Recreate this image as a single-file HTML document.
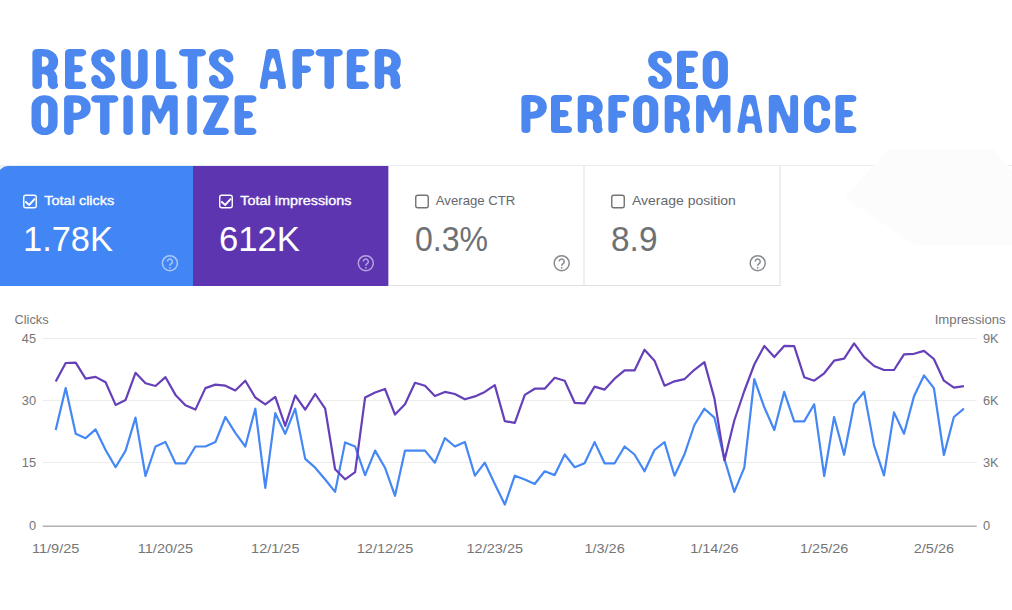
<!DOCTYPE html>
<html><head><meta charset="utf-8"><style>
html,body{margin:0;padding:0;background:#fff;width:1012px;height:610px;overflow:hidden;}
svg{display:block;}
</style></head><body>
<svg width="1012" height="610" viewBox="0 0 1012 610">
<defs><filter id="rnd" x="-20%" y="-20%" width="140%" height="140%"><feGaussianBlur stdDeviation="1.5"/><feComponentTransfer><feFuncA type="linear" slope="4" intercept="-1.5"/></feComponentTransfer></filter></defs>
<rect width="1012" height="610" fill="#fff"/>
<g fill="none" stroke="#4b87ee" stroke-linecap="round" stroke-linejoin="round"><path transform="translate(32.40,49.00) scale(1.28,1)" d="M3.70 36.30V3.70H7.88C12.98 3.70 16.38 7.10 16.38 12.20V12.90C16.38 18.00 12.98 21.40 7.88 21.40H3.70M6.18 21.40C12.98 21.40 15.75 24.40 15.75 29.40V34.80L16.38 36.30" stroke-width="7.40"/><path transform="translate(65.00,49.00) scale(1.28,1)" d="M12.94 3.70H3.70V36.30H12.94M3.70 19.60H10.21" stroke-width="7.40"/><path transform="translate(91.20,49.00) scale(1.28,1)" d="M14.89 9.70C14.89 5.50 11.89 3.70 9.30 3.70C6.70 3.70 3.70 5.50 3.70 11.00C3.70 19.00 14.89 20.00 14.89 29.00C14.89 34.50 11.89 36.30 9.30 36.30C6.70 36.30 3.70 34.50 3.70 29.80" stroke-width="7.40"/><path transform="translate(121.20,49.00) scale(1.28,1)" d="M3.70 3.70V28.30C3.70 38.97 16.93 38.97 16.93 28.30V3.70" stroke-width="7.40"/><path transform="translate(156.00,49.00) scale(1.28,1)" d="M3.70 3.70V36.30H12.55" stroke-width="7.40"/><path transform="translate(179.00,49.00) scale(1.28,1)" d="M3.70 3.70H17.39M10.55 3.70V36.30" stroke-width="7.40"/><path transform="translate(208.90,49.00) scale(1.28,1)" d="M15.44 9.70C15.44 5.50 12.44 3.70 9.57 3.70C6.70 3.70 3.70 5.50 3.70 11.00C3.70 19.00 15.44 20.00 15.44 29.00C15.44 34.50 12.44 36.30 9.57 36.30C6.70 36.30 3.70 34.50 3.70 29.80" stroke-width="7.40"/><path d="M259.30 89.00L266.54 49.00L278.75 49.00L286.50 89.00L278.23 89.00L277.80 79.12L268.00 79.12L267.57 89.00ZM272.90 54.20L277.66 71.60L268.28 71.60Z" fill="#4b87ee" fill-rule="evenodd" stroke="none" filter="url(#rnd)"/><path transform="translate(292.50,49.00) scale(1.28,1)" d="M13.41 3.70H3.70V36.30M3.70 20.20H10.75" stroke-width="7.40"/><path transform="translate(315.60,49.00) scale(1.28,1)" d="M3.70 3.70H17.55M10.62 3.70V36.30" stroke-width="7.40"/><path transform="translate(346.80,49.00) scale(1.28,1)" d="M13.64 3.70H3.70V36.30H13.64M3.70 19.60H10.91" stroke-width="7.40"/><path transform="translate(374.70,49.00) scale(1.28,1)" d="M3.70 36.30V3.70H8.19C13.29 3.70 16.69 7.10 16.69 12.20V12.90C16.69 18.00 13.29 21.40 8.19 21.40H3.70M6.49 21.40C13.29 21.40 16.07 24.40 16.07 29.40V34.80L16.69 36.30" stroke-width="7.40"/><path transform="translate(31.50,95.30) scale(1.28,1)" d="M3.67 12.11C3.67 0.86 16.72 0.86 16.72 12.11V27.59C16.72 38.84 3.67 38.84 3.67 27.59Z" stroke-width="7.34"/><path transform="translate(64.10,95.30) scale(1.28,1)" d="M3.67 36.03V3.67H8.67C13.73 3.67 17.11 7.05 17.11 12.11V12.60C17.11 17.67 13.73 21.04 8.67 21.04H3.67" stroke-width="7.34"/><path transform="translate(91.20,95.30) scale(1.28,1)" d="M3.67 3.67H17.58M10.62 3.67V36.03" stroke-width="7.34"/><path transform="translate(123.40,95.30) scale(1.28,1)" d="M3.67 3.67V36.03" stroke-width="7.34"/><path d="M142.20 135.00L142.20 95.30L154.23 95.30L159.84 111.97L165.45 95.30L177.70 95.30L177.70 135.00L169.75 135.00L169.75 106.77L159.84 126.11L150.15 106.77L150.15 135.00Z" fill="#4b87ee" fill-rule="evenodd" stroke="none" filter="url(#rnd)"/><path transform="translate(187.10,95.30) scale(1.28,1)" d="M3.87 3.67V36.03" stroke-width="7.34"/><path transform="translate(202.90,95.30) scale(1.28,1)" d="M3.67 3.67H16.64L3.67 36.03H16.64" stroke-width="7.34"/><path transform="translate(234.60,95.30) scale(1.28,1)" d="M13.44 3.67H3.67V36.03H13.44M3.67 19.45H10.70" stroke-width="7.34"/><path transform="translate(648.10,50.70) scale(1.28,1)" d="M14.97 9.29C14.97 5.27 12.10 3.54 9.26 3.54C6.42 3.54 3.54 5.27 3.54 10.53C3.54 18.19 14.97 19.15 14.97 27.77C14.97 33.03 12.10 34.76 9.26 34.76C6.42 34.76 3.54 33.03 3.54 28.53" stroke-width="7.09"/><path transform="translate(677.00,50.70) scale(1.28,1)" d="M12.94 3.54H3.54V34.76H12.94M3.54 18.77H10.21" stroke-width="7.09"/><path transform="translate(702.70,50.70) scale(1.28,1)" d="M3.54 11.68C3.54 0.83 16.14 0.83 16.14 11.68V26.62C16.14 37.47 3.54 37.47 3.54 26.62Z" stroke-width="7.09"/><path transform="translate(521.40,95.00) scale(1.28,1)" d="M3.52 34.48V3.52H8.25C13.10 3.52 16.33 6.75 16.33 11.59V12.06C16.33 16.91 13.10 20.14 8.25 20.14H3.52" stroke-width="7.03"/><path transform="translate(551.00,95.00) scale(1.28,1)" d="M12.89 3.52H3.52V34.48H12.89M3.52 18.62H10.16" stroke-width="7.03"/><path transform="translate(577.70,95.00) scale(1.28,1)" d="M3.52 34.48V3.52H7.94C12.79 3.52 16.02 6.75 16.02 11.59V12.25C16.02 17.10 12.79 20.33 7.94 20.33H3.52M6.33 20.33C12.79 20.33 15.39 23.18 15.39 27.93V33.06L16.02 34.48" stroke-width="7.03"/><path transform="translate(608.40,95.00) scale(1.28,1)" d="M12.89 3.52H3.52V34.48M3.52 19.19H10.23" stroke-width="7.03"/><path transform="translate(633.10,95.00) scale(1.28,1)" d="M3.52 11.59C3.52 0.82 16.17 0.82 16.17 11.59V26.41C16.17 37.18 3.52 37.18 3.52 26.41Z" stroke-width="7.03"/><path transform="translate(664.70,95.00) scale(1.28,1)" d="M3.52 34.48V3.52H8.10C12.94 3.52 16.17 6.75 16.17 11.59V12.25C16.17 17.10 12.94 20.33 8.10 20.33H3.52M6.48 20.33C12.94 20.33 15.55 23.18 15.55 27.93V33.06L16.17 34.48" stroke-width="7.03"/><path d="M696.10 133.00L696.10 95.00L707.76 95.00L713.20 110.96L718.63 95.00L730.50 95.00L730.50 133.00L722.79 133.00L722.79 105.98L713.20 124.49L703.81 105.98L703.81 133.00Z" fill="#4b87ee" fill-rule="evenodd" stroke="none" filter="url(#rnd)"/><path d="M736.90 133.00L743.82 95.00L755.49 95.00L762.90 133.00L755.00 133.00L754.58 123.61L745.22 123.61L744.80 133.00ZM749.90 99.94L754.45 116.47L745.48 116.47Z" fill="#4b87ee" fill-rule="evenodd" stroke="none" filter="url(#rnd)"/><path d="M768.80 133.00L768.80 95.00L779.85 95.00L790.22 121.60L790.22 95.00L798.10 95.00L798.10 133.00L786.97 133.00L776.68 106.40L776.68 133.00Z" fill="#4b87ee" fill-rule="evenodd" stroke="none" filter="url(#rnd)"/><path transform="translate(804.00,95.00) scale(1.28,1)" d="M16.95 12.54V11.59C16.95 0.82 3.52 0.82 3.52 11.59V26.41C3.52 37.18 16.95 37.18 16.95 26.41V26.79" stroke-width="7.03"/><path transform="translate(835.40,95.00) scale(1.28,1)" d="M12.89 3.52H3.52V34.48H12.89M3.52 18.62H10.16" stroke-width="7.03"/></g>
<rect x="0" y="165" width="1012" height="1" fill="#e8ecf3"/>
<path d="M890 152H992L1012 176V242H916L849 197Z" fill="#fcfcfc" stroke="#fcfcfc" stroke-width="6" stroke-linejoin="round"/>
<rect x="0" y="165" width="10" height="10" fill="#eef0f4"/><path d="M-2 176A10 10 0 0 1 8 166H193V286H-2Z" fill="#4285f4"/>
<rect x="193" y="166" width="195.6" height="120" fill="#5e35b1"/>
<rect x="388.6" y="166" width="195.4" height="120" fill="#fff"/>
<rect x="584" y="166" width="196" height="120" fill="#fff"/>
<rect x="583.5" y="166" width="1" height="120" fill="#e0e0e0"/>
<rect x="779.5" y="166" width="1" height="119" fill="#e0e0e0"/>
<rect x="388.6" y="285" width="392" height="1" fill="#e0e0e0"/>
<rect x="23.75" y="195.25" width="12.5" height="12.5" rx="2" fill="none" stroke="#fff" stroke-width="1.4"/><path d="M25.3 201.6L29.2 204.9L35 198.6" fill="none" stroke="#fff" stroke-width="1.9"/>
<rect x="219.75" y="195.25" width="12.5" height="12.5" rx="2" fill="none" stroke="#fff" stroke-width="1.4"/><path d="M221.3 201.6L225.2 204.9L231 198.6" fill="none" stroke="#fff" stroke-width="1.9"/>
<rect x="415.75" y="195.25" width="12.5" height="12.5" rx="2" fill="none" stroke="#707376" stroke-width="1.4"/>
<rect x="611.75" y="195.25" width="12.5" height="12.5" rx="2" fill="none" stroke="#707376" stroke-width="1.4"/>
<text x="44.3" y="205.3" font-family="Liberation Sans, sans-serif" font-size="13.6" fill="#fff" stroke="#fff" stroke-width="0.35" textLength="70" lengthAdjust="spacingAndGlyphs">Total clicks</text>
<text x="240.3" y="205.3" font-family="Liberation Sans, sans-serif" font-size="13.6" fill="#fff" stroke="#fff" stroke-width="0.35" textLength="111.2" lengthAdjust="spacingAndGlyphs">Total impressions</text>
<text x="435.8" y="205.3" font-family="Liberation Sans, sans-serif" font-size="13.6" fill="#65686c" textLength="79.6" lengthAdjust="spacingAndGlyphs">Average CTR</text>
<text x="632" y="205.3" font-family="Liberation Sans, sans-serif" font-size="13.6" fill="#65686c" textLength="103.8" lengthAdjust="spacingAndGlyphs">Average position</text>
<text x="23" y="251.2" font-family="Liberation Sans, sans-serif" font-size="35.2" fill="#fff" textLength="90" lengthAdjust="spacingAndGlyphs">1.78K</text>
<text x="219" y="251.2" font-family="Liberation Sans, sans-serif" font-size="35.2" fill="#fff" textLength="81" lengthAdjust="spacingAndGlyphs">612K</text>
<text x="415" y="251.2" font-family="Liberation Sans, sans-serif" font-size="35.2" fill="#6e7073" textLength="73" lengthAdjust="spacingAndGlyphs">0.3%</text>
<text x="611" y="251.2" font-family="Liberation Sans, sans-serif" font-size="35.2" fill="#6e7073" textLength="46.5" lengthAdjust="spacingAndGlyphs">8.9</text>
<g opacity="0.55"><circle cx="169.9" cy="263.2" r="7.5" fill="none" stroke="#fff" stroke-width="1.5"/><path d="M167.4 261.6a2.5 2.5 0 1 1 3.8 2.1c-0.9 0.6-1.3 1-1.3 2.1" fill="none" stroke="#fff" stroke-width="1.5"/><circle cx="169.9" cy="267.8" r="0.9" fill="#fff"/></g>
<g opacity="0.55"><circle cx="365.8" cy="263.2" r="7.5" fill="none" stroke="#fff" stroke-width="1.5"/><path d="M363.3 261.6a2.5 2.5 0 1 1 3.8 2.1c-0.9 0.6-1.3 1-1.3 2.1" fill="none" stroke="#fff" stroke-width="1.5"/><circle cx="365.8" cy="267.8" r="0.9" fill="#fff"/></g>
<g opacity="0.75"><circle cx="561.7" cy="263.2" r="7.5" fill="none" stroke="#5f6368" stroke-width="1.5"/><path d="M559.2 261.6a2.5 2.5 0 1 1 3.8 2.1c-0.9 0.6-1.3 1-1.3 2.1" fill="none" stroke="#5f6368" stroke-width="1.5"/><circle cx="561.7" cy="267.8" r="0.9" fill="#5f6368"/></g>
<g opacity="0.75"><circle cx="757.7" cy="263.2" r="7.5" fill="none" stroke="#5f6368" stroke-width="1.5"/><path d="M755.2 261.6a2.5 2.5 0 1 1 3.8 2.1c-0.9 0.6-1.3 1-1.3 2.1" fill="none" stroke="#5f6368" stroke-width="1.5"/><circle cx="757.7" cy="267.8" r="0.9" fill="#5f6368"/></g>
<rect x="42.7" y="338" width="934" height="1" fill="#ececec"/>
<rect x="42.7" y="400" width="934" height="1" fill="#ececec"/>
<rect x="42.7" y="462" width="934" height="1" fill="#ececec"/>
<rect x="42.7" y="525.6" width="934" height="1.2" fill="#9e9e9e"/>
<text x="14.5" y="323.7" font-family="Liberation Sans, sans-serif" font-size="12.8" fill="#757575">Clicks</text>
<text x="1005.7" y="323.7" font-family="Liberation Sans, sans-serif" font-size="12.8" fill="#757575" text-anchor="end" textLength="71" lengthAdjust="spacingAndGlyphs">Impressions</text>
<text x="36" y="342.9" font-family="Liberation Sans, sans-serif" font-size="12.8" fill="#757575" text-anchor="end">45</text>
<text x="36" y="404.7" font-family="Liberation Sans, sans-serif" font-size="12.8" fill="#757575" text-anchor="end">30</text>
<text x="36" y="467" font-family="Liberation Sans, sans-serif" font-size="12.8" fill="#757575" text-anchor="end">15</text>
<text x="36" y="530.2" font-family="Liberation Sans, sans-serif" font-size="12.8" fill="#757575" text-anchor="end">0</text>
<text x="983" y="342.9" font-family="Liberation Sans, sans-serif" font-size="12.8" fill="#757575">9K</text>
<text x="983" y="404.7" font-family="Liberation Sans, sans-serif" font-size="12.8" fill="#757575">6K</text>
<text x="983" y="467" font-family="Liberation Sans, sans-serif" font-size="12.8" fill="#757575">3K</text>
<text x="983" y="530.2" font-family="Liberation Sans, sans-serif" font-size="12.8" fill="#757575">0</text>
<text x="55.7" y="553" font-family="Liberation Sans, sans-serif" font-size="13.2" fill="#757575" text-anchor="middle" textLength="47.4" lengthAdjust="spacingAndGlyphs">11/9/25</text>
<text x="165.5" y="553" font-family="Liberation Sans, sans-serif" font-size="13.2" fill="#757575" text-anchor="middle" textLength="55.4" lengthAdjust="spacingAndGlyphs">11/20/25</text>
<text x="275.3" y="553" font-family="Liberation Sans, sans-serif" font-size="13.2" fill="#757575" text-anchor="middle" textLength="48.4" lengthAdjust="spacingAndGlyphs">12/1/25</text>
<text x="385.0" y="553" font-family="Liberation Sans, sans-serif" font-size="13.2" fill="#757575" text-anchor="middle" textLength="56.5" lengthAdjust="spacingAndGlyphs">12/12/25</text>
<text x="494.8" y="553" font-family="Liberation Sans, sans-serif" font-size="13.2" fill="#757575" text-anchor="middle" textLength="56.5" lengthAdjust="spacingAndGlyphs">12/23/25</text>
<text x="604.6" y="553" font-family="Liberation Sans, sans-serif" font-size="13.2" fill="#757575" text-anchor="middle" textLength="40.4" lengthAdjust="spacingAndGlyphs">1/3/26</text>
<text x="714.4" y="553" font-family="Liberation Sans, sans-serif" font-size="13.2" fill="#757575" text-anchor="middle" textLength="48.4" lengthAdjust="spacingAndGlyphs">1/14/26</text>
<text x="824.2" y="553" font-family="Liberation Sans, sans-serif" font-size="13.2" fill="#757575" text-anchor="middle" textLength="48.4" lengthAdjust="spacingAndGlyphs">1/25/26</text>
<text x="933.9" y="553" font-family="Liberation Sans, sans-serif" font-size="13.2" fill="#757575" text-anchor="middle" textLength="40.4" lengthAdjust="spacingAndGlyphs">2/5/26</text>
<polyline points="55.7,430.0 65.7,388.1 75.7,433.8 85.6,438.2 95.6,429.4 105.6,450.0 115.6,467.2 125.6,450.6 135.5,417.6 145.5,476.0 155.5,446.5 165.5,442.1 175.5,463.3 185.4,463.3 195.4,446.5 205.4,446.5 215.4,442.1 225.4,417.0 235.3,432.9 245.3,446.5 255.3,408.7 265.3,487.8 275.3,413.2 285.2,433.8 295.2,408.7 305.2,458.9 315.2,467.7 325.2,479.5 335.1,491.9 345.1,442.4 355.1,446.5 365.1,475.1 375.1,450.6 385.0,467.7 395.0,495.8 405.0,450.6 415.0,450.6 425.0,450.6 434.9,462.7 444.9,438.2 454.9,446.5 464.9,442.1 474.9,475.7 484.8,462.7 494.8,484.0 504.8,504.6 514.8,475.7 524.8,479.5 534.7,484.0 544.7,471.3 554.7,475.1 564.7,454.5 574.7,467.2 584.6,463.3 594.6,442.1 604.6,463.3 614.6,463.3 624.6,446.5 634.5,454.5 644.5,471.3 654.5,450.0 664.5,442.1 674.5,475.7 684.4,454.5 694.4,425.0 704.4,408.7 714.4,417.6 724.4,458.9 734.3,491.9 744.3,467.7 754.3,379.2 764.3,407.3 774.3,430.0 784.2,391.9 794.2,421.4 804.2,421.4 814.2,404.3 824.2,476.0 834.1,417.0 844.1,454.8 854.1,404.3 864.1,391.9 874.1,445.6 884.0,475.4 894.0,412.4 904.0,433.7 914.0,396.2 924.0,375.4 933.9,388.2 943.9,455.0 953.9,417.0 963.9,408.6" fill="none" stroke="#4487f5" stroke-width="2.2" stroke-linejoin="round"/>
<polyline points="55.7,381.6 65.7,363.0 75.7,362.7 85.6,378.7 95.6,376.9 105.6,382.2 115.6,404.9 125.6,399.9 135.5,372.8 145.5,383.2 155.5,386.0 165.5,377.2 175.5,394.9 185.4,405.2 195.4,409.6 205.4,388.1 215.4,384.6 225.4,385.7 235.3,390.5 245.3,380.7 255.3,397.5 265.3,404.3 275.3,396.9 285.2,425.9 295.2,395.5 305.2,409.6 315.2,394.0 325.2,408.7 335.1,469.2 345.1,479.3 355.1,472.2 365.1,397.5 375.1,392.5 385.0,389.0 395.0,414.6 405.0,404.3 415.0,382.8 425.0,385.7 434.9,396.1 444.9,391.9 454.9,394.0 464.9,399.3 474.9,396.4 484.8,391.9 494.8,385.1 504.8,421.1 514.8,422.9 524.8,394.9 534.7,388.7 544.7,388.7 554.7,377.8 564.7,380.7 574.7,402.8 584.6,403.4 594.6,386.6 604.6,389.6 614.6,378.7 624.6,370.4 634.5,370.4 644.5,349.7 654.5,360.7 664.5,385.7 674.5,381.3 684.4,379.2 694.4,369.8 704.4,362.1 714.4,398.4 724.4,460.4 734.3,420.5 744.3,391.0 754.3,364.5 764.3,345.9 774.3,357.1 784.2,345.9 794.2,346.2 804.2,377.2 814.2,380.7 824.2,373.3 834.1,360.7 844.1,358.6 854.1,343.3 864.1,357.1 874.1,366.0 884.0,370.0 894.0,370.0 904.0,354.3 914.0,353.8 924.0,350.9 933.9,359.0 943.9,380.7 953.9,387.7 963.9,386.1" fill="none" stroke="#6640b8" stroke-width="2.2" stroke-linejoin="round"/>
</svg>
</body></html>
